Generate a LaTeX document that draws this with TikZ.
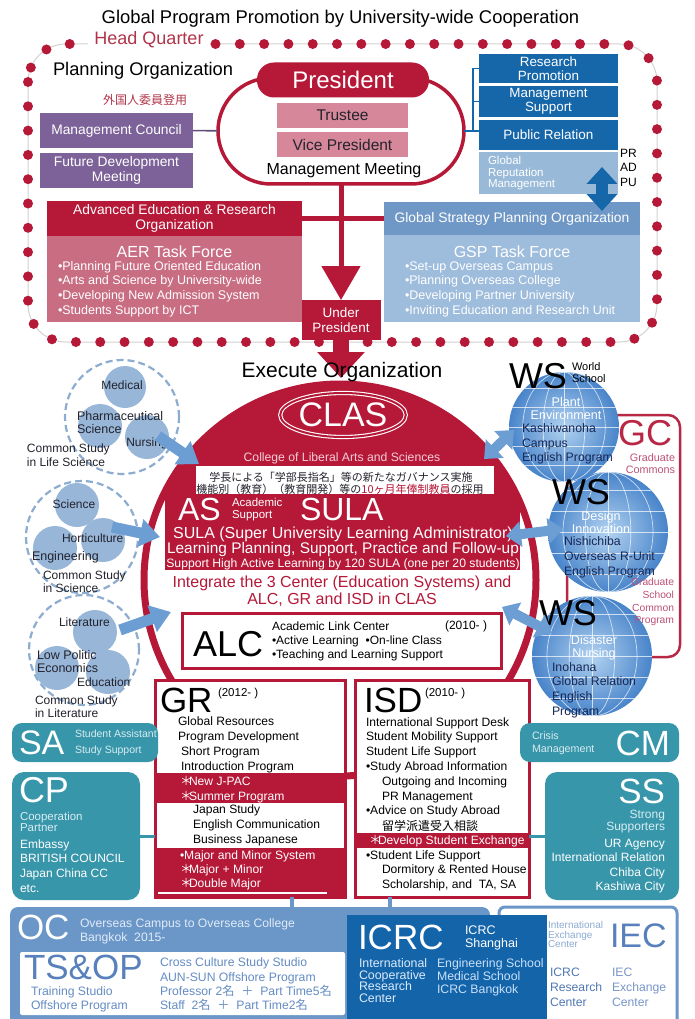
\documentclass[tikz,border=0pt]{standalone}
\usepackage{fontspec}
\setmainfont{Liberation Sans}
\newfontfamily\jp{Noto Sans CJK JP}
\usetikzlibrary{arrows.meta,shapes.geometric}
\definecolor{hqred}{RGB}{182,24,56}
\definecolor{hqtext}{RGB}{176,52,74}
\definecolor{pinkbox}{RGB}{214,136,154}
\definecolor{aerpink}{RGB}{201,110,130}
\definecolor{purp}{RGB}{124,98,152}
\definecolor{dblue}{RGB}{22,102,170}
\definecolor{lblue}{RGB}{152,186,216}
\definecolor{gsph}{RGB}{112,152,198}
\definecolor{gspt}{RGB}{158,188,220}
\definecolor{teal}{RGB}{56,150,170}
\definecolor{tealtxt}{RGB}{215,236,242}
\definecolor{ocblue}{RGB}{106,150,200}
\definecolor{octxt}{RGB}{225,235,247}
\definecolor{icrcblue}{RGB}{20,100,170}
\definecolor{icrctxt}{RGB}{220,235,250}
\definecolor{icrctxt2}{RGB}{200,225,250}
\definecolor{arrblue}{RGB}{108,158,212}
\definecolor{clblue}{RGB}{152,182,216}
\definecolor{dashblue}{RGB}{140,172,208}
\definecolor{navy}{RGB}{25,40,85}
\definecolor{tsblue}{RGB}{88,128,188}
\definecolor{tsblue2}{RGB}{100,140,195}
\definecolor{iectxt}{RGB}{140,170,210}
\definecolor{iecdark}{RGB}{80,120,180}
\definecolor{ieclight}{RGB}{120,150,200}
\definecolor{gcred}{RGB}{184,40,70}
\definecolor{gcpink}{RGB}{190,80,120}
\definecolor{clpink}{RGB}{245,205,215}
\definecolor{globein}{RGB}{178,210,240}
\definecolor{globeout}{RGB}{72,132,202}
\definecolor{dtext}{RGB}{35,35,45}
\newcommand\fz[2]{\fontsize{#1}{#2}\selectfont}
\newcommand\stR{\makebox[9pt][l]{\jp ＊}}
\newcommand\globe[4]{%
  \node[circle, minimum size=2*#4pt, inner color=globein, outer color=globeout] (#1) at (#2,#3) {};
  \begin{scope}
    \clip (#2,#3) circle[radius=#4];
    \foreach \k in {0.38,0.75} \draw[white, line width=0.7pt, opacity=0.7] (#2,#3) ellipse[x radius=\k*#4, y radius=#4];
    \draw[white, line width=0.7pt, opacity=0.7] (#2,#3-#4) -- (#2,#3+#4);
    \foreach \k in {-0.7,-0.35,0,0.35,0.7} \draw[white, line width=0.7pt, opacity=0.7] (#2-#4,#3+\k*#4) -- (#2+#4,#3+\k*#4);
  \end{scope}}
\begin{document}
\begin{tikzpicture}[x=1pt,y=-1pt,
  every node/.style={inner sep=0pt, outer sep=0pt},
  t/.style={anchor=west, align=left},
  tr/.style={anchor=east, align=right},
  bx/.style 2 args={minimum width=#1pt, minimum height=#2pt},
  dashc/.style={circle, draw=dashblue, line width=2.2pt, dash pattern=on 7pt off 4pt},
  smc/.style={circle, fill=clblue},
  fat/.style={line width=11pt, arrblue, -{Triangle[width=27pt,length=20pt]}},
  fat2/.style={line width=10pt, arrblue, {Triangle[width=25pt,length=15pt]}-{Triangle[width=25pt,length=15pt]}},
]
\useasboundingbox (0,0) rectangle (694,1019);
\fill[white] (0,0) rectangle (694,1019);

% ---------- Head quarter border
\draw[gray!35, line width=1pt, rounded corners=38pt] (28,44) rectangle (657,342);
\draw[hqred, line width=10pt, line cap=round, dash pattern=on 0pt off 24.3pt, rounded corners=38pt] (28,44) rectangle (657,342);
\node[fill=white, inner xsep=6pt, inner ysep=4pt, text=hqtext, font=\fz{18}{20}] (hq) at (149,40) {Head Quarter};
\node[font=\fz{18.4}{22}] (title) at (340.5,19) {Global Program Promotion by University-wide Cooperation};
\node[t, font=\fz{18.3}{22}] (planorg) at (53,71) {Planning Organization};

% ---------- President ring
\node[draw=hqred, line width=3.5pt, rounded corners=53pt, bx={246}{106}] (ring) at (341,131) {};
\node[fill=hqred, rounded corners=17pt, bx={172}{35}, text=white, font=\fz{24}{28}] (pres) at (343,80) {President};
\node[fill=pinkbox, bx={131}{25}, font=\fz{15.5}{18}, text=dtext] (trustee) at (342.5,115.5) {Trustee};
\node[fill=pinkbox, bx={131}{25}, font=\fz{15.5}{18}, text=dtext] (vp) at (342.5,144.5) {Vice President};
\node[font=\fz{16}{19}] (mm) at (344,170) {Management Meeting};

% ---------- purple
\node[font=\jp\fz{12}{14}, text=hqtext] (gaikoku) at (145,100) {外国人委員登用};
\node[fill=purp, bx={153}{35}, text=white, font=\fz{13.8}{16}] (mc) at (116.5,130.5) {Management Council};
\node[fill=purp, bx={153}{35}, text=white, font=\fz{13.8}{15}, align=center] (fdm) at (116.5,170.5) {Future Development\\Meeting};
\draw[purp!80!black, line width=1.6pt] (mc) -- (ring);

% ---------- blue boxes
\node[fill=dblue, bx={139}{29}, text=white, font=\fz{13.4}{14}, align=center] (rp) at (548.5,68.5) {Research\\Promotion};
\node[fill=dblue, bx={139}{31}, text=white, font=\fz{13.4}{14}, align=center] (ms) at (548.5,101.5) {Management\\Support};
\node[fill=dblue, bx={139}{30}, text=white, font=\fz{13.5}{15}] (pr) at (548.5,135) {Public Relation};
\node[fill=lblue, bx={139}{42}] (grm) at (548.5,173) {};
\node[t, text=white, font=\fz{11.5}{11.5}] (grmt) at (488,173.5) {Global\\Reputation\\Management};
\draw[dblue, line width=1.2pt] (ring.east) -- (ring.east -| pr.west);
\draw[dblue, line width=1.2pt] (rp.west) -- ++(-6,0) coordinate (bk1) -- (bk1 |- ring.east);
\draw[dblue, line width=1.2pt] (ms.west) -- ++(-6,0);
\node[t, font=\fz{12}{14.5}] (prad) at (620,167.5) {PR\\AD\\PU};

% ---------- AER / GSP
\node[fill=hqred, bx={255}{35}, text=white, font=\fz{13.8}{15}, align=center] (aerh) at (174.5,218.5) {Advanced Education \& Research\\Organization};
\node[fill=aerpink, bx={255}{86}] (aert) at (174.5,279) {};
\node[text=white, font=\fz{16}{19}] (aertf) at (174.5,252) {AER Task Force};
\node[t, text=white, font=\fz{12.5}{14.7}] (aerl) at (58,289) {•Planning Future Oriented Education\\•Arts and Science by University-wide\\•Developing New Admission System\\•Students Support by ICT};
\node[fill=gsph, bx={256}{33}, text=white, font=\fz{13.8}{15}] (gsph) at (512,218.5) {Global Strategy Planning Organization};
\node[fill=gspt, bx={256}{87}] (gspt) at (512,278.5) {};
\node[text=white, font=\fz{16}{19}] (gsptf) at (512,252) {GSP Task Force};
\node[t, text=white, font=\fz{12.5}{14.7}] (gspl) at (405,289) {•Set-up Overseas Campus\\•Planning Overseas College\\•Developing Partner University\\•Inviting Education and Research Unit};
\coordinate (ua) at (602,167);
\coordinate (la) at (602,211);
\draw[dblue, line width=12pt, {Triangle[width=30pt,length=17pt]}-{Triangle[width=30pt,length=17pt]}] (ua) -- (la);

\node[fill=hqred, bx={79}{40}, text=white, font=\fz{13.5}{15}, align=center] (up) at (341,320) {Under\\President};
\draw[hqred, line width=5pt] (aerh.east) -- (gsph.west);
\draw[hqred, line width=5pt, -{Triangle[width=38pt,length=34pt]}] (ring.south) -- (up.north);

% ---------- CLAS circle
\coordinate (cc) at (340,580);
\begin{scope}
  \clip (cc) circle[radius=196];
  \fill[hqred] (100,370) rectangle (600,497);
\end{scope}
\fill[white] (196,466) rectangle (494,494);
\fill[hqred] (165,497) rectangle (520,570);
\node[circle, draw=hqred, line width=7pt, minimum size=392pt] (clas) at (cc) {};
\coordinate (exec) at (341,378);
\draw[hqred, line width=16pt, -{Triangle[width=46pt,length=26pt]}] (up.south) -- (exec);
\node[font=\fz{21}{24}] (execorg) at (342,372) {Execute Organization};

\node[ellipse, draw=white, double=hqred, double distance=2pt, line width=1.1pt, minimum width=112pt, minimum height=44pt, text=white, font=\fz{34}{36}] (clasl) at (343,415) {CLAS};
\node[text=clpink, font=\fz{12.2}{14}] (college) at (342,458) {College of Liberal Arts and Sciences};
\node[font=\jp\fz{11}{13}, text=dtext] (jp1) at (341,477) {学長による「学部長指名」等の新たなガバナンス実施};
\node[font=\jp\fz{11}{13}, text=dtext] (jp2) at (340,489) {機能別（教育）（教育開発）等の{\color{hqred}10ヶ月年俸制教員}の採用};
\node[t, text=white, font=\fz{32}{34}] (as) at (178,509) {AS};
\node[t, text=white, font=\fz{11.5}{11.5}] (acs) at (232,509.5) {Academic\\Support};
\node[t, text=white, font=\fz{32}{34}] (sula) at (300,509) {SULA};
\node[text=white, font=\fz{16}{18}] (sula1) at (343,534) {SULA (Super University Learning Administrator)};
\node[text=white, font=\fz{15.4}{18}] (sula2) at (343,549.5) {Learning Planning, Support, Practice and Follow-up};
\node[text=white, font=\fz{12.2}{14}] (sula3) at (343,564) {Support High Active Learning by 120 SULA (one per 20 students)};
\node[text=hqred, font=\fz{16}{17}, align=center] (integ) at (342,591.5) {Integrate the 3 Center (Education Systems) and\\ALC, GR and ISD in CLAS};

% ---------- ALC
\node[draw=hqred, line width=3pt, fill=white, bx={319}{55}] (alc) at (341.5,640.5) {};
\node[t, font=\fz{36}{40}] (alct) at (193,644) {ALC};
\node[t, font=\fz{12}{14}] (alcn) at (272,626) {Academic Link Center};
\node[t, font=\fz{12}{14}] (alcy) at (445,626) {(2010- )};
\node[t, font=\fz{12}{14}] (alcl) at (272,648) {•Active Learning\ \ •On-line Class\\•Teaching and Learning Support};

% ---------- clusters
\node[dashc, minimum size=114pt] (ls) at (122,417) {};
\node[smc, minimum size=42pt] (med) at (125,387) {};
\node[smc, minimum size=44pt] (pha) at (100,426) {};
\node[smc, minimum size=44pt] (nur) at (147,437) {};
\node[font=\fz{12}{13}, text=dtext] (medt) at (122,385) {Medical};
\node[t, font=\fz{12.5}{13}, text=dtext] (phat) at (77,422.5) {Pharmaceutical\\Science};
\node[font=\fz{12}{13}, text=dtext] (nurt) at (147,443) {Nursing};
\node[t, font=\fz{12}{14}, text=dtext] (lst) at (27,455) {Common Study\\in Life Science};

\node[dashc, minimum size=112pt] (sc) at (82,537) {};
\node[smc, minimum size=44pt] (sci) at (77,505) {};
\node[smc, minimum size=44pt] (hor) at (103,540) {};
\node[smc, minimum size=44pt] (eng) at (55,548) {};
\node[font=\fz{12}{13}, text=dtext] (scit) at (74,504) {Science};
\node[t, font=\fz{12}{13}, text=dtext] (hort) at (62,538) {Horticulture};
\node[t, font=\fz{12.5}{13}, text=dtext] (engt) at (32,557) {Engineering};
\node[t, font=\fz{12}{13}, text=dtext] (sct) at (43,581.5) {Common Study\\in Science};

\node[dashc, minimum size=110pt] (lit) at (84,650) {};
\node[smc, minimum size=44pt] (litc) at (95,632) {};
\node[smc, minimum size=44pt] (lpc) at (57,668) {};
\node[smc, minimum size=44pt] (educ) at (108,672) {};
\node[t, font=\fz{12}{13}, text=dtext] (litt) at (59,622) {Literature};
\node[t, font=\fz{12.5}{13}, text=dtext] (lpt) at (37,661.5) {Low Politic\\Economics};
\node[t, font=\fz{12}{13}, text=dtext] (edut) at (77,682) {Education};
\node[t, font=\fz{12}{13}, text=dtext] (litst) at (35,707) {Common Study\\in Literature};

\coordinate (a1s) at (158,436); \coordinate (a1e) at (199,464);
\coordinate (a2s) at (112,527); \coordinate (a2e) at (160,537);
\coordinate (a3s) at (120,630); \coordinate (a3e) at (171,612);
\draw[fat] (a1s) -- (a1e);
\draw[fat] (a2s) -- (a2e);
\draw[fat] (a3s) -- (a3e);

% ---------- GC and globes
\node[draw=gcred, line width=2.5pt, rounded corners=12pt, bx={113}{242}] (gc) at (623.5,536) {};
\globe{g2}{608}{532}{60}
\globe{g1}{564}{427}{55}
\globe{g3}{592}{656}{60}
\node[t, text=gcred, font=\fz{36}{38}] (gct) at (618,433) {GC};
\node[tr, text=gcpink, font=\fz{10.8}{12}] (gcc) at (675,464) {Graduate\\Commons};
\node[tr, text=gcpink, font=\fz{10.3}{12.7}] (gscp) at (674,602) {Graduate\\School\\Common\\Program};
\node[t, font=\fz{36}{38}] (ws1) at (509,376) {WS};
\node[t, font=\fz{11}{12}] (wsch) at (572,373) {World\\School};
\node[t, font=\fz{36}{38}] (ws2) at (552,492) {WS};
\node[t, font=\fz{36}{38}] (ws3) at (539,613) {WS};
\node[text=white, font=\fz{12.6}{13}, align=center] (g1w) at (566,408) {Plant\\Environment};
\node[t, text=navy, font=\fz{12.3}{14.5}] (g1n) at (522,444) {Kashiwanoha\\Campus\\English Program};
\node[text=white, font=\fz{12.6}{13}, align=center] (g2w) at (601,522.5) {Design\\Innovation};
\node[t, text=navy, font=\fz{12.3}{15}] (g2n) at (564,557) {Nishichiba\\Overseas R-Unit\\English Program};
\node[text=white, font=\fz{12.6}{13}, align=center] (g3w) at (594,647.5) {Disaster\\Nursing};
\node[t, text=navy, font=\fz{12.3}{14.6}] (g3n) at (552,690) {Inohana\\Global Relation\\English\\Program};
\coordinate (d1a) at (484,459); \coordinate (d1b) at (514,430);
\coordinate (d2a) at (506,536); \coordinate (d2b) at (563,529);
\coordinate (d3a) at (502,607); \coordinate (d3b) at (552,633);
\draw[fat2] (d1a) -- (d1b);
\draw[fat2] (d2a) -- (d2b);
\draw[fat2] (d3a) -- (d3b);

% ---------- GR
\node[draw=hqred, line width=3pt, fill=white, bx={190}{217}] (gr) at (250,788.5) {};
\fill[hqred] (155,773) rectangle (345,803);
\fill[hqred] (155,848) rectangle (345,897);
\draw[white, line width=1.2pt] (158,893) -- (327,893);
\node[t, font=\fz{35}{38}] (grt) at (160,700) {GR};
\node[t, font=\fz{11.5}{13}] (gry) at (218,694) {(2012- )};
\node[t, font=\fz{12.1}{14.5}] (gr1) at (178,730) {Global Resources\\Program Development};
\node[t, font=\fz{12.1}{14.8}] (gr2) at (181,759.5) {Short Program\\Introduction Program};
\node[t, text=white, font=\fz{12.1}{15}] (gr3) at (180,789.5) {\stR New J-PAC\\\stR Summer Program};
\node[t, font=\fz{12.1}{15}] (gr4) at (193,825) {Japan Study\\English Communication\\Business Japanese};
\node[t, text=white, font=\fz{12.1}{14}] (gr5) at (180,870) {•Major and Minor System\\\stR Major + Minor\\\stR Double Major};

% ---------- ISD
\node[draw=hqred, line width=3pt, fill=white, bx={174}{217}] (isd) at (442,788.5) {};
\fill[hqred] (355,833) rectangle (529,848);
\node[t, font=\fz{35}{38}] (isdt) at (364,700) {ISD};
\node[t, font=\fz{11.5}{13}] (isdy) at (425,694) {(2010- )};
\node[t, font=\fz{12.1}{14.67}] (isd1) at (366,745) {International Support Desk\\Student Mobility Support\\Student Life Support\\•Study Abroad Information};
\node[t, font=\fz{12.1}{15}] (isd2) at (382,789.5) {Outgoing and Incoming\\PR Management};
\node[t, font=\fz{12.1}{14}] (isd3) at (366,811) {•Advice on Study Abroad};
\node[t, font=\jp\fz{12}{14}] (isd4) at (382,826) {留学派遣受入相談};
\node[t, text=white, font=\fz{12.1}{14}] (isd5) at (369,841) {\stR Develop Student Exchange};
\node[t, font=\fz{12.1}{14}] (isd6) at (366,856) {•Student Life Support};
\node[t, font=\fz{12.1}{14.8}] (isd7) at (382,877.5) {Dormitory \& Rented House\\Scholarship, and\ \ TA, SA};

% ---------- SA CP CM SS
\node[fill=teal, rounded corners=10pt, bx={146}{39}] (sa) at (85,742.5) {};
\node[t, text=white, font=\fz{34}{36}] (sat) at (19,743) {SA};
\node[t, text=tealtxt, font=\fz{10.5}{12}] (sal1) at (75,734) {Student Assistant};
\node[t, text=tealtxt, font=\fz{10.5}{12}] (sal2) at (75,751) {Study Support};
\node[fill=teal, rounded corners=12pt, bx={128}{128}] (cp) at (76,836) {};
\node[t, text=white, font=\fz{36}{38}] (cpt) at (19,790) {CP};
\node[t, text=tealtxt, font=\fz{11.5}{10.5}] (cpl) at (20,822) {Cooperation\\Partner};
\node[t, text=white, font=\fz{12}{14.6}] (cpl2) at (20,866) {Embassy\\BRITISH COUNCIL\\Japan China CC\\etc.};
\node[fill=teal, rounded corners=10pt, bx={159}{39}] (cm) at (599.5,742.5) {};
\node[t, text=tealtxt, font=\fz{10.7}{13}] (cml) at (532,743.5) {Crisis\\Management};
\node[tr, text=white, font=\fz{35}{38}] (cmt) at (670,743) {CM};
\node[fill=teal, rounded corners=12pt, bx={134}{128}] (ss) at (612,836) {};
\node[tr, text=white, font=\fz{35}{38}] (sst) at (665,791) {SS};
\node[tr, text=tealtxt, font=\fz{12}{10.5}] (ssl) at (665,821.5) {Strong\\Supporters};
\node[tr, text=white, font=\fz{12}{14.3}] (ssl2) at (665,866) {UR Agency\\International Relation\\Chiba City\\Kashiwa City};
\draw[teal, line width=3pt] (cp.east) -- (cp.east -| gr.west);
\draw[teal, line width=3pt] (ss.west) -- (ss.west -| isd.east);

% ---------- bottom
\node[fill=ocblue, rounded corners=8pt, bx={480}{125}] (oc) at (250,969.5) {};
\node[draw=ocblue, line width=3pt, fill=white, rounded corners=6pt, bx={178}{125}] (iec) at (588,969.5) {};
\node[fill=icrcblue, bx={200}{115}] (icrc) at (447,972.5) {};
\node[fill=white, rounded corners=2pt, bx={325}{63}] (tsop) at (182.5,983.5) {};
\draw[ocblue, line width=4pt] ([xshift=42pt]gr.south) -- ([xshift=42pt]gr.south |- oc.north);
\draw[ocblue, line width=4pt] ([xshift=-52pt]isd.south) -- ([xshift=-52pt]isd.south |- oc.north);
\node[t, text=white, font=\fz{35}{38}] (oct) at (17,927) {OC};
\node[t, text=octxt, font=\fz{12.2}{14}] (ocl) at (80,931) {Overseas Campus to Overseas College\\Bangkok\ \ 2015-};
\node[t, text=tsblue, font=\fz{35}{38}] (tst) at (24,967) {TS\&OP};
\node[t, text=tsblue2, font=\fz{12.2}{13.5}] (tsl) at (31,999.5) {Training Studio\\Offshore Program};
\node[t, text=tsblue2, font=\fz{12.2}{14.3}] (tsl2) at (160,984.5) {Cross Culture Study Studio\\AUN-SUN Offshore Program\\Professor 2{\jp 名}\ \ {\jp ＋}\ \ Part Time5{\jp 名}\\Staff\ \ 2{\jp 名}\ \ {\jp ＋}\ \ Part Time2{\jp 名}};
\node[t, text=white, font=\fz{35}{38}] (icrct) at (358,937) {ICRC};
\node[t, text=white, font=\fz{12.5}{12.5}] (icrcs) at (465,938) {ICRC\\Shanghai};
\node[t, text=icrctxt, font=\fz{12.4}{11.7}] (icrcl) at (359,980.5) {International\\Cooperative\\Research\\Center};
\node[t, text=icrctxt2, font=\fz{12.3}{13}] (icrcl2) at (437,977) {Engineering School\\Medical School\\ICRC Bangkok};
\node[t, text=iectxt, font=\fz{10}{9.8}] (iecl) at (548,934.5) {International\\Exchange\\Center};
\node[t, text=tsblue, font=\fz{34}{36}] (iect) at (610,936) {IEC};
\node[t, text=iecdark, font=\fz{12.2}{15}] (iecl2) at (550,987) {ICRC\\Research\\Center};
\node[t, text=ieclight, font=\fz{12.2}{15}] (iecl3) at (612,987) {IEC\\Exchange\\Center};
\end{tikzpicture}
\end{document}
